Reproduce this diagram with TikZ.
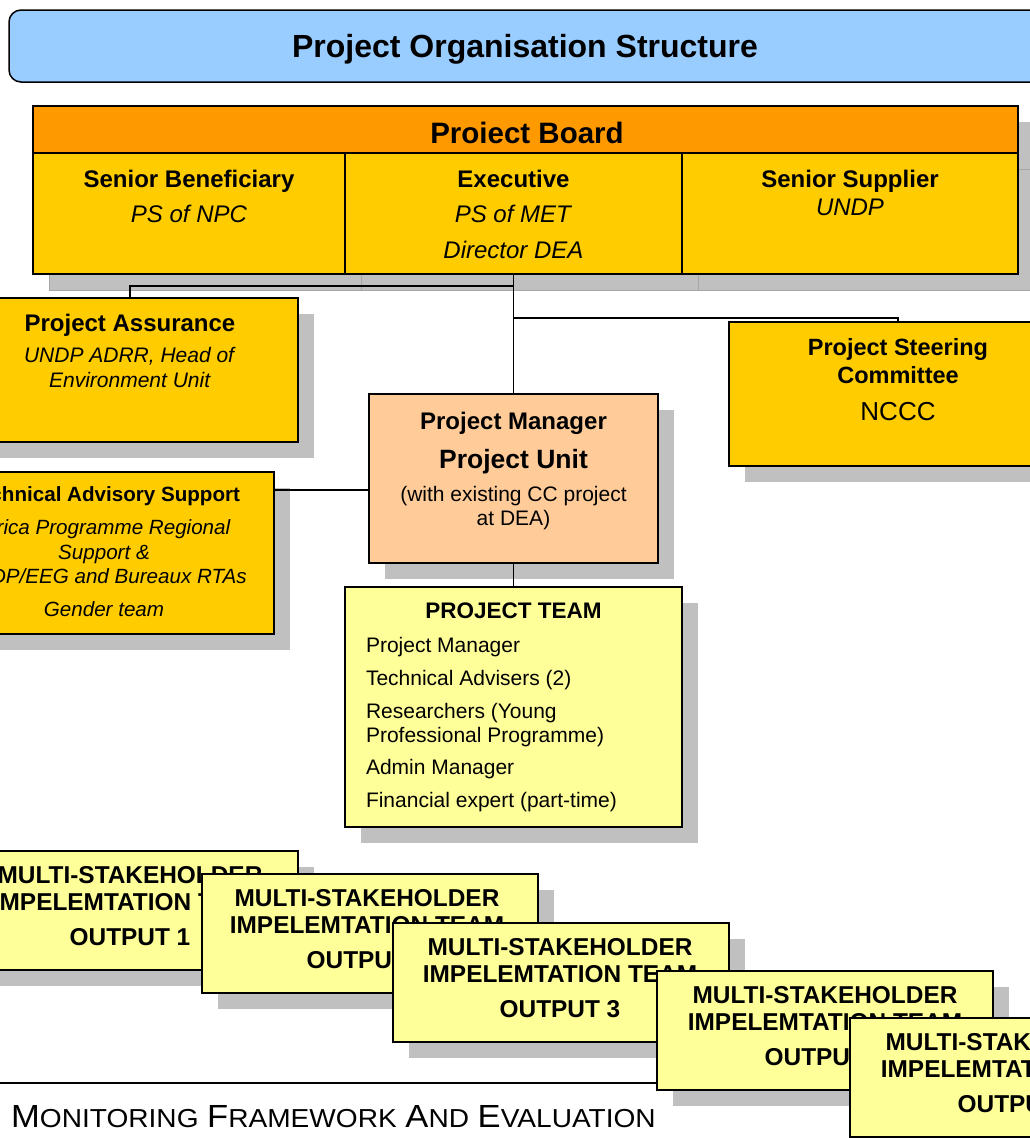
\documentclass[tikz,border=0pt]{standalone}
\usepackage{fontspec}
\setmainfont{Liberation Sans}
\usepackage{xcolor}
\usepackage{graphicx}
\usetikzlibrary{shadows}

\definecolor{titleblue}{HTML}{99CCFF}
\definecolor{boardorange}{HTML}{FF9900}
\definecolor{gold}{HTML}{FFCC00}
\definecolor{peach}{HTML}{FFCC99}
\definecolor{paleyellow}{HTML}{FFFF99}
\definecolor{shadowgrey}{HTML}{C0C0C0}

\newcommand{\boxhead}[1]{{\fontsize{24}{25}\selectfont\bfseries #1}}
\newcommand{\hcap}[2]{{\fontsize{32}{34}\selectfont #1}{\fontsize{26}{28}\selectfont #2}}

\begin{document}
\begin{tikzpicture}[x=1pt,y=-1pt]

		\tikzset{box/.style = {draw, line width=1.5pt, inner sep=0pt, outer sep=0pt, anchor=north west}}
		\tikzset{shade/.style = {drop shadow={shadow xshift=16pt, shadow yshift=-16pt, fill=shadowgrey, opacity=1}}}
		\tikzset{cellshade/.style = {drop shadow={shadow xshift=16pt, shadow yshift=-16pt, fill=shadowgrey, draw=black!35, line width=0.6pt, opacity=1}}}
		\tikzset{txt/.style = {inner sep=0pt, outer sep=0pt, align=center, anchor=north, font=\fontsize{21}{24.5}\selectfont}}
		\tikzset{outtxt/.style = {txt, font=\fontsize{24.4}{27}\selectfont\bfseries}}
		\tikzset{edge/.style = {-, line width=1.5pt}}
		\useasboundingbox (0,0) rectangle (1030,1138);
		\clip (0,0) rectangle (1030,1138);
		%title
		\node[box, rounded corners=12pt, fill=titleblue, minimum width=1040pt, minimum height=72pt] (title) at (9,10) {};
		\node[txt, anchor=base, font=\fontsize{32}{34}\selectfont\bfseries] (titletxt) at (525,57) {Project Organisation Structure};
		%board
		\node[box, shade, fill=boardorange, minimum width=985pt, minimum height=47pt] (board) at (33,106) {};
		\node[txt, anchor=base, font=\fontsize{29.5}{30}\selectfont\bfseries] (boardtxt) at (527,143) {Proiect Board};
		\node[box, cellshade, fill=gold, minimum width=312pt, minimum height=121pt] (ben) at (33,153) {};
		\node[box, cellshade, fill=gold, minimum width=337pt, minimum height=121pt] (exe) at (345,153) {};
		\node[box, cellshade, fill=gold, minimum width=336pt, minimum height=121pt] (sup) at (682,153) {};
		\node[txt, font=\fontsize{24}{35.5}\selectfont] (bentxt) at (189,170) {\textbf{Senior Beneficiary}\\\textit{PS of NPC}};
		\node[txt, font=\fontsize{24}{35.5}\selectfont] (exetxt) at (513.5,170) {\textbf{Executive}\\\textit{PS of MET}\\\textit{Director DEA}};
		\node[txt, font=\fontsize{24}{28}\selectfont] (suptxt) at (850,170) {\textbf{Senior Supplier}\\\textit{UNDP}};
		%side boxes
		\node[box, shade, fill=gold, minimum width=336pt, minimum height=144pt] (assur) at (-38,298) {};
		\node[txt] (assurtxt) at (130,314) {\boxhead{Project Assurance}\\[7pt]\textit{UNDP ADRR, Head of}\\\textit{Environment Unit}};
		\node[box, shade, fill=gold, minimum width=338pt, minimum height=144pt] (steer) at (729,322) {};
		\node[txt, font=\fontsize{23.5}{28}\selectfont\bfseries] (steertxt) at (898,338) {Project Steering\\Committee\\[9.5pt]{\fontsize{26}{28}\selectfont\mdseries NCCC}};
		\node[box, shade, fill=gold, minimum width=336pt, minimum height=162pt] (tech) at (-62,472) {};
		\node[txt, font=\fontsize{20.6}{24.5}\selectfont] (techtxt) at (104,487) {\textbf{Technical Advisory Support}\\[8.5pt]\textit{Africa Programme Regional}\\\textit{Support \&}\\\textit{UNDP/EEG and Bureaux RTAs}\\[8.5pt]\textit{Gender team}};
		%project unit and team
		\node[box, shade, fill=peach, minimum width=289pt, minimum height=169pt] (pm) at (369,394) {};
		\node[txt] (pmtxt) at (513.5,412) {\boxhead{Project Manager}\\[14.5pt]{\fontsize{26.5}{28}\selectfont\bfseries Project Unit}\\[8.5pt](with existing CC project\\at DEA)};
		\node[box, shade, fill=paleyellow, minimum width=337pt, minimum height=240pt] (team) at (345,587) {};
		\node[txt, font=\fontsize{22.5}{25}\selectfont\bfseries] (teamhd) at (513.5,603) {PROJECT TEAM};
		\node[txt, align=left, anchor=north west, font=\fontsize{21}{24}\selectfont] (teamlist) at (366,637) {Project Manager\\[9pt]Technical Advisers (2)\\[9pt]Researchers (Young\\Professional Programme)\\[8pt]Admin Manager\\[9pt]Financial expert (part-time)};
		%edges
		\coordinate (ja) at (513.5,286);
		\coordinate (js) at (513.5,318);
		\coordinate (jt) at (274,490);
		\draw[edge] (exe.south) to (pm.north);
		\draw[edge] (ja) -| (assur.north);
		\draw[edge] (js) -| (steer.north);
		\draw[edge] (jt) to (jt -| pm.west);
		\draw[edge] (pm.south) to (team.north);
		%output teams
		\node[box, shade, fill=paleyellow, minimum width=336pt, minimum height=119pt] (out1) at (-38,851) {};
		\node[outtxt] (out1txt) at (130,866) {MULTI-STAKEHOLDER\\IMPELEMTATION TEAM\\[8pt]OUTPUT 1};
		\node[box, shade, fill=paleyellow, minimum width=336pt, minimum height=119pt] (out2) at (202,874) {};
		\node[outtxt] (out2txt) at (367,889) {MULTI-STAKEHOLDER\\IMPELEMTATION TEAM\\[8pt]OUTPUT 2};
		\node[box, shade, fill=paleyellow, minimum width=336pt, minimum height=119pt] (out3) at (393,923) {};
		\node[outtxt] (out3txt) at (560,938) {MULTI-STAKEHOLDER\\IMPELEMTATION TEAM\\[8pt]OUTPUT 3};
		%section heading
		\draw[line width=1.5pt] (0,1083) -- (720,1083);
		\node[inner sep=0pt, anchor=base west] (mfe) at (11,1127) {\scalebox{1.08}[1]{\hcap{M}{ONITORING}\hspace{8pt}\hcap{F}{RAMEWORK}\hspace{8pt}\hcap{A}{ND}\hspace{8pt}\hcap{E}{VALUATION}}};
		\node[box, shade, fill=paleyellow, minimum width=336pt, minimum height=119pt] (out4) at (657,971) {};
		\node[outtxt] (out4txt) at (825,986) {MULTI-STAKEHOLDER\\IMPELEMTATION TEAM\\[8pt]OUTPUT 4};
		\node[box, shade, fill=paleyellow, minimum width=336pt, minimum height=119pt] (out5) at (850,1018) {};
		\node[outtxt] (out5txt) at (1018,1033) {MULTI-STAKEHOLDER\\IMPELEMTATION TEAM\\[8pt]OUTPUT 5};
\end{tikzpicture}
\end{document}
